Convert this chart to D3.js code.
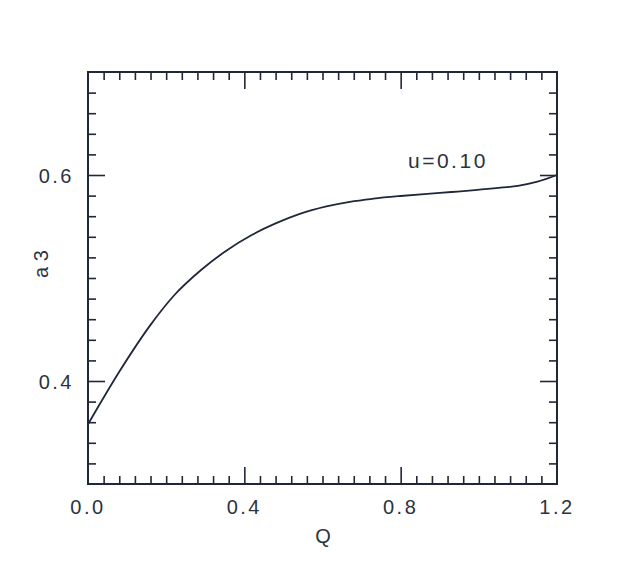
<!DOCTYPE html>
<html>
<head>
<meta charset="utf-8">
<script src="https://cdn.jsdelivr.net/npm/d3@7"></script>
<style>
  body { margin: 0; background: #fff; }
  text { font-family: "Liberation Sans", Arial, sans-serif; fill: #2b3242; }
</style>
</head>
<body>
<div id="chart"></div>
<script>
// curve u=0.10
const qValues = [0, 0.08, 0.16, 0.22, 0.29, 0.35, 0.42, 0.48, 0.54, 0.61, 0.67, 0.73, 0.8, 0.86, 0.93, 0.99, 1.05, 1.1, 1.15, 1.2];
const a3Values = [0.358, 0.409, 0.4545, 0.483, 0.508, 0.5255, 0.542, 0.553, 0.562, 0.5695, 0.574, 0.577, 0.5796, 0.5815, 0.5835, 0.5853, 0.5874, 0.5895, 0.5935, 0.6];
const xMajor = [0, 0.4, 0.8, 1.2];
const yMajor = [0.4, 0.6];
const curveLabel = "u=0.10";

const width = 623, height = 581;
const margin = {top: 72, right: 66, bottom: 97, left: 88};
const ink = "#1f2738";

const x = d3.scaleLinear([0, 1.2], [margin.left, width - margin.right]);
const y = d3.scaleLinear([0.3, 0.7], [height - margin.bottom, margin.top]);

const svg = d3.select("#chart").append("svg")
    .attr("width", width)
    .attr("height", height)
    .attr("viewBox", [0, 0, width, height]);

const xMinor = d3.range(0, 30).map(i => +(i * 0.04).toFixed(2)).filter(v => !xMajor.includes(v));
const yMinor = d3.range(16, 35).map(i => +(i * 0.02).toFixed(2)).filter(v => !yMajor.includes(v));

function ticks(axis, vals, len) {
    return axis.tickValues(vals).tickSize(len).tickFormat("");
}

const x0 = margin.left, x1 = width - margin.right;
const y0 = height - margin.bottom, y1 = margin.top;

// ticks point inward on all four sides
const axes = [
    [d3.axisTop, y0, "x"], [d3.axisBottom, y1, "x"],
    [d3.axisRight, x0, "y"], [d3.axisLeft, x1, "y"]
];
axes.forEach(([make, pos, dim]) => {
    const sc = dim === "x" ? x : y;
    const tr = dim === "x" ? `translate(0,${pos})` : `translate(${pos},0)`;
    const majors = dim === "x" ? xMajor.slice(1, -1) : yMajor;
    const minors = dim === "x" ? xMinor.filter(v => v > 0) : yMinor;
    [[minors, 8], [majors, 17]].forEach(([vals, len]) => {
        svg.append("g")
            .attr("transform", tr)
            .call(ticks(make(sc), vals, len))
            .call(g => g.select(".domain").remove())
            .call(g => g.selectAll("line").attr("stroke", ink).attr("stroke-width", 1.6));
    });
});

svg.append("rect")
    .attr("x", x0).attr("y", y1)
    .attr("width", x1 - x0).attr("height", y0 - y1)
    .attr("fill", "none")
    .attr("stroke", ink)
    .attr("stroke-width", 2);

// tick labels
svg.append("g")
    .selectAll("text")
    .data(xMajor)
    .join("text")
        .attr("x", d => x(d))
        .attr("y", y0 + 30)
        .attr("text-anchor", "middle")
        .attr("font-size", 20)
        .attr("letter-spacing", 2.5)
        .text(d => d.toFixed(1));

svg.append("g")
    .selectAll("text")
    .data(yMajor)
    .join("text")
        .attr("x", x0 - 14)
        .attr("y", d => y(d) + 8)
        .attr("text-anchor", "end")
        .attr("font-size", 20)
        .attr("letter-spacing", 2.5)
        .text(d => d.toFixed(1));

svg.append("text")
    .attr("x", 323)
    .attr("y", 543)
    .attr("text-anchor", "middle")
    .attr("font-size", 20)
    .text("Q");

svg.append("text")
    .attr("transform", "translate(48,264) rotate(-90)")
    .attr("text-anchor", "middle")
    .attr("font-size", 20)
    .text("a 3");

const line = d3.line()
    .x(d => x(d[0]))
    .y(d => y(d[1]))
    .curve(d3.curveMonotoneX);

svg.append("path")
    .datum(d3.zip(qValues, a3Values))
    .attr("fill", "none")
    .attr("stroke", ink)
    .attr("stroke-width", 1.8)
    .attr("d", line);

svg.append("text")
    .attr("x", 408)
    .attr("y", 168)
    .attr("font-size", 21)
    .attr("letter-spacing", 2.5)
    .text(curveLabel);
</script>
</body>
</html>
